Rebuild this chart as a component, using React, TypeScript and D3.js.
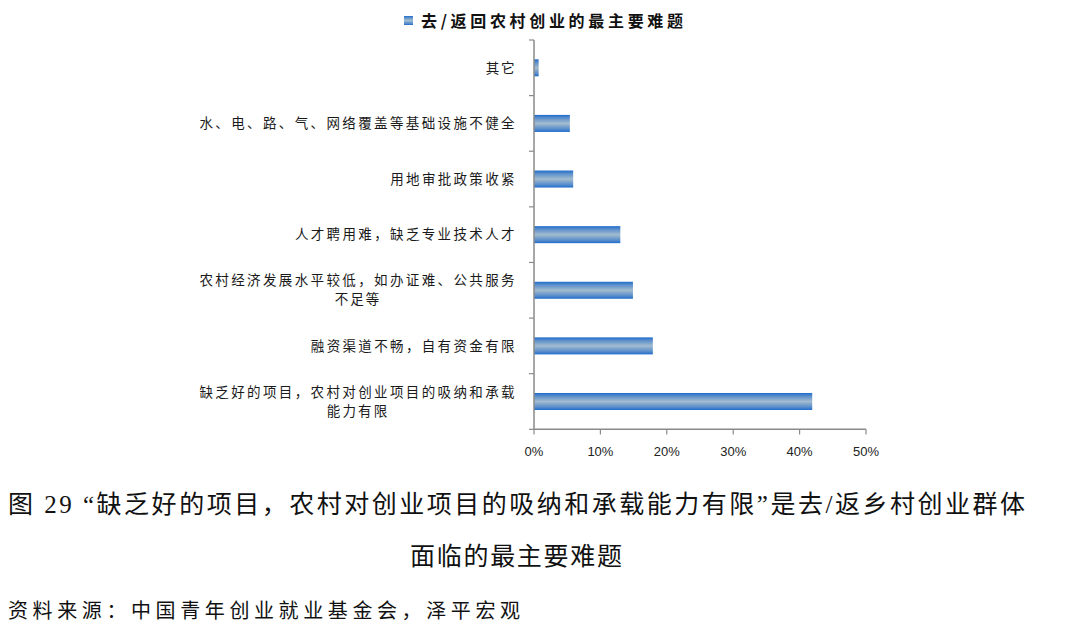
import * as d3 from "d3";

const WIDTH = 1080;
const HEIGHT = 635;

// categories top to bottom, lines as drawn in the source chart
const categories = [
  "其它",
  "水、电、路、气、网络覆盖等基础设施不健全",
  "用地审批政策收紧",
  "人才聘用难，缺乏专业技术人才",
  "农村经济发展水平较低，如办证难、公共服务不足等",
  "融资渠道不畅，自有资金有限",
  "缺乏好的项目，农村对创业项目的吸纳和承载能力有限",
];
const labelLines = [
  ["其它"],
  ["水、电、路、气、网络覆盖等基础设施不健全"],
  ["用地审批政策收紧"],
  ["人才聘用难，缺乏专业技术人才"],
  ["农村经济发展水平较低，如办证难、公共服务", "不足等"],
  ["融资渠道不畅，自有资金有限"],
  ["缺乏好的项目，农村对创业项目的吸纳和承载", "能力有限"],
];
const values = [0.7, 5.4, 5.9, 13.0, 14.9, 17.9, 41.9];
const xTicks = [0, 10, 20, 30, 40, 50];

const legendLabel = "去/返回农村创业的最主要难题";
const captionLine1 =
  "图 29 “缺乏好的项目，农村对创业项目的吸纳和承载能力有限”是去/返乡村创业群体";
const captionLine2 = "面临的最主要难题";
const sourceText = "资料来源：中国青年创业就业基金会，泽平宏观";

const CJK = "'Noto Sans CJK SC', sans-serif";
const LABEL_PITCH = 15.9;

const x = d3.scaleLinear().domain([0, 50]).range([534, 866]);
const y = d3
  .scaleBand<string>()
  .domain(categories)
  .range([40, 429.3])
  .paddingInner(0.694)
  .paddingOuter(0.347);

export default function App() {
  const step = y.step();
  const boundaries = d3.range(categories.length + 1).map((i) => 40 + i * step);
  const labelRight = 516;

  return (
    <svg
      width={WIDTH}
      height={HEIGHT}
      style={{ position: "fixed", left: 0, top: 0, background: "#fff" }}
    >
      <defs>
        <linearGradient id="barGrad" x1="0" y1="0" x2="0" y2="1">
          <stop offset="0" stopColor="#1f6ccc" />
          <stop offset="0.18" stopColor="#5a8ecb" />
          <stop offset="0.5" stopColor="#a3bccf" />
          <stop offset="0.82" stopColor="#5a8ecb" />
          <stop offset="1" stopColor="#1f6ccc" />
        </linearGradient>
      </defs>

      {/* legend */}
      <rect x={404} y={16} width={9} height={9} fill="url(#barGrad)" />
      <text
        x={421}
        y={26.5}
        fontFamily={CJK}
        fontSize={16}
        fontWeight="bold"
        fill="#111"
        textLength={262}
        lengthAdjust="spacing"
      >
        {legendLabel}
      </text>

      {/* bars */}
      {categories.map((c, i) => (
        <rect
          key={c}
          x={x(0)}
          y={y(c)!}
          width={x(values[i]) - x(0)}
          height={y.bandwidth()}
          fill="url(#barGrad)"
        />
      ))}

      {/* y axis */}
      <line x1={534} x2={534} y1={40} y2={429.3} stroke="#8a8a8a" strokeWidth={1.5} />
      {boundaries.map((b, i) => (
        <line key={i} x1={529} x2={534} y1={b} y2={b} stroke="#8a8a8a" strokeWidth={1.2} />
      ))}

      {/* category labels */}
      {labelLines.map((lines, i) => {
        const maxChars = d3.max(lines, (l) => l.length)!;
        const blockW = maxChars * LABEL_PITCH;
        const cx = labelRight - blockW / 2;
        const cy = y(categories[i])! + y.bandwidth() / 2;
        const lh = 19;
        const top = cy - ((lines.length - 1) * lh) / 2;
        return lines.map((l, j) => (
          <text
            key={`${i}-${j}`}
            x={cx}
            y={top + j * lh}
            dy="0.35em"
            textAnchor="middle"
            fontFamily={CJK}
            fontSize={13.5}
            fill="#1a1a1a"
            textLength={l.length * LABEL_PITCH - 3}
            lengthAdjust="spacing"
          >
            {l}
          </text>
        ));
      })}

      {/* x axis */}
      <line x1={534} x2={866} y1={429.3} y2={429.3} stroke="#8a8a8a" strokeWidth={1.5} />
      {xTicks.map((t) => (
        <g key={t}>
          <line x1={x(t)} x2={x(t)} y1={429.3} y2={434.5} stroke="#8a8a8a" strokeWidth={1.2} />
          <text
            x={x(t)}
            y={456}
            textAnchor="middle"
            fontFamily="'Liberation Sans', Arial, sans-serif"
            fontSize={13}
            fill="#222"
          >
            {t}%
          </text>
        </g>
      ))}

      {/* caption */}
      <text
        x={8}
        y={513}
        fontFamily={`'Liberation Serif', ${CJK}`}
        fontSize={25}
        fill="#111"
        textLength={1017}
        lengthAdjust="spacing"
      >
        {captionLine1}
      </text>
      <text
        x={410}
        y={565}
        fontFamily={CJK}
        fontSize={25}
        fill="#111"
        textLength={212}
        lengthAdjust="spacing"
      >
        {captionLine2}
      </text>
      <text
        x={8}
        y={618}
        fontFamily={CJK}
        fontSize={20}
        fill="#111"
        textLength={512}
        lengthAdjust="spacing"
      >
        {sourceText}
      </text>
    </svg>
  );
}
